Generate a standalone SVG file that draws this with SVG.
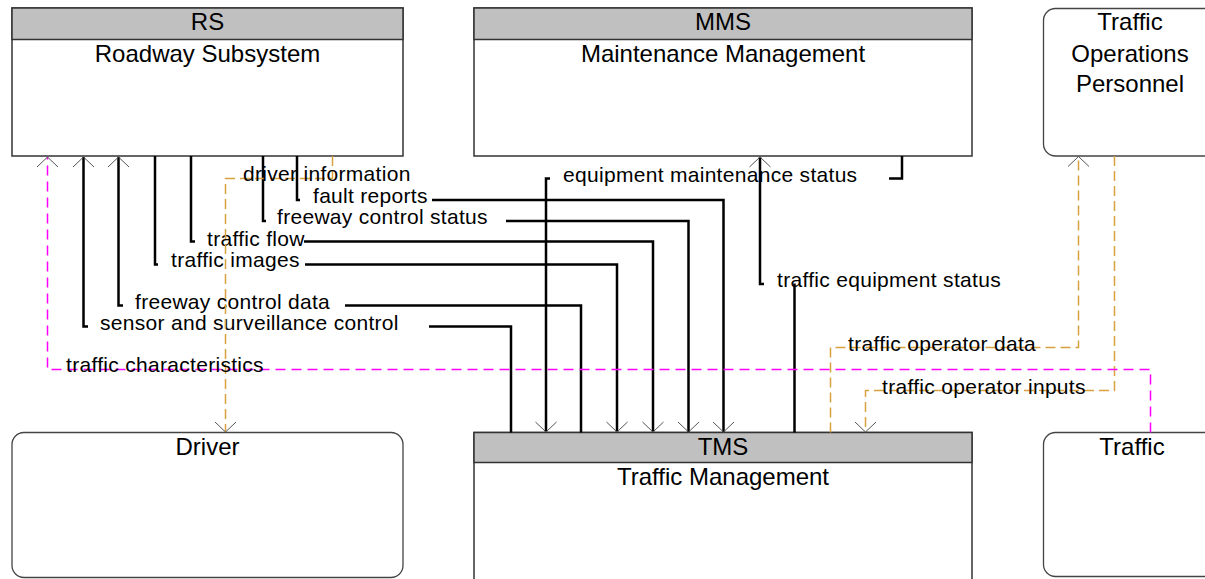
<svg xmlns="http://www.w3.org/2000/svg" width="1205" height="579" viewBox="0 0 1205 579">
<style>
  .box { fill: #ffffff; stroke: #333333; stroke-width: 1.5; }
  .hdr { fill: #c0c0c0; stroke: #333333; stroke-width: 1.5; }
  .term { fill: #ffffff; stroke: #444444; stroke-width: 1.3; }
  .title { font-family: "Liberation Sans", Arial, sans-serif; font-size: 24px; fill: #000000; text-anchor: middle; }
  .lbl { font-family: "Liberation Sans", Arial, sans-serif; font-size: 21px; letter-spacing: 0.3px; fill: #000000; }
  .solid { fill: none; stroke: #000000; stroke-width: 2.5; }
  .orange { fill: none; stroke: #d9a040; stroke-width: 1.5; stroke-dasharray: 10 5; }
  .magenta { fill: none; stroke: #ff00ff; stroke-width: 1.5; stroke-dasharray: 10 6; }
</style>
<defs>
  <marker id="arr" viewBox="-12 -12 24 24" refX="0" refY="0" markerWidth="24" markerHeight="24" orient="auto" markerUnits="userSpaceOnUse">
    <path d="M-10,-10.5 L0,0 L-10,10.5" fill="none" stroke="#555555" stroke-width="1"/>
  </marker>
</defs>

<g id="node-RS">
  <rect class="box" x="12" y="8" width="391" height="148"/>
  <rect class="hdr" x="12" y="8" width="391" height="31.5"/>
  <text class="title" x="207.5" y="30">RS</text>
  <text class="title" x="207.5" y="62">Roadway Subsystem</text>
</g>

<g id="node-MMS">
  <rect class="box" x="474" y="8" width="498" height="148"/>
  <rect class="hdr" x="474" y="8" width="498" height="31.5"/>
  <text class="title" x="723" y="30">MMS</text>
  <text class="title" x="723" y="62">Maintenance Management</text>
</g>

<g id="node-TOP">
  <rect class="term" x="1043.5" y="8.5" width="176" height="147.5" rx="12" ry="12"/>
  <text class="title" x="1130" y="30">Traffic</text>
  <text class="title" x="1130" y="61.5">Operations</text>
  <text class="title" x="1130" y="92">Personnel</text>
</g>

<g id="node-Driver">
  <rect class="term" x="12" y="432.5" width="391" height="145" rx="12" ry="12"/>
  <text class="title" x="207.5" y="454.5">Driver</text>
</g>

<g id="node-TMS">
  <rect class="box" x="474" y="432.5" width="498" height="170"/>
  <rect class="hdr" x="474" y="432.5" width="498" height="30"/>
  <text class="title" x="723" y="454.5">TMS</text>
  <text class="title" x="723" y="485">Traffic Management</text>
</g>

<g id="node-Traffic">
  <rect class="term" x="1043.5" y="432.5" width="178" height="144" rx="12" ry="12"/>
  <text class="title" x="1132" y="454.5">Traffic</text>
</g>

<g id="connectors">
  <!-- sensor and surveillance control: TMS -> RS -->
  <path class="solid" d="M511,432.5 V326.5 H429"/>
  <path class="solid" d="M88,326.5 H83.5 V157" marker-end="url(#arr)"/>
  <text class="lbl" x="100" y="330">sensor and surveillance control</text>

  <!-- freeway control data: TMS -> RS -->
  <path class="solid" d="M581,432.5 V305.5 H345"/>
  <path class="solid" d="M123,305.5 H118.5 V157" marker-end="url(#arr)"/>
  <text class="lbl" x="135" y="308.8">freeway control data</text>

  <!-- traffic images: RS -> TMS -->
  <path class="solid" d="M155,156 V264.5 H158"/>
  <path class="solid" d="M305,264.5 H617 V432" marker-end="url(#arr)"/>
  <text class="lbl" x="171" y="267">traffic images</text>

  <!-- traffic flow: RS -> TMS -->
  <path class="solid" d="M191,156 V241.5 H195"/>
  <path class="solid" d="M304,241.5 H653 V432" marker-end="url(#arr)"/>
  <text class="lbl" x="207" y="245.5">traffic flow</text>

  <!-- freeway control status: RS -> TMS -->
  <path class="solid" d="M263,156 V221 H266"/>
  <path class="solid" d="M506,221 H688.5 V432" marker-end="url(#arr)"/>
  <text class="lbl" x="277" y="224.2">freeway control status</text>

  <!-- fault reports: RS -> TMS -->
  <path class="solid" d="M297,156 V200 H300"/>
  <path class="solid" d="M432,200 H723.5 V432" marker-end="url(#arr)"/>
  <text class="lbl" x="313" y="202.8">fault reports</text>

  <!-- equipment maintenance status: MMS -> TMS -->
  <path class="solid" d="M902,156 V178.5 H889"/>
  <path class="solid" d="M550,178.5 H546 V432" marker-end="url(#arr)"/>
  <text class="lbl" x="563" y="182">equipment maintenance status</text>

  <!-- traffic equipment status: TMS -> MMS -->
  <path class="solid" d="M794.5,432.5 V283.5"/>
  <path class="solid" d="M764,284 H760 V157" marker-end="url(#arr)"/>
  <text class="lbl" x="777" y="287">traffic equipment status</text>

  <!-- driver information: RS -> Driver -->
  <path class="orange" d="M332.5,156 V178.5 H225.5 V432" marker-end="url(#arr)"/>
  <text class="lbl" x="243" y="181.3">driver information</text>

  <!-- traffic operator data: TMS -> TOP -->
  <path class="orange" d="M830.5,432.5 V347.5 H1078.5 V156.5" marker-end="url(#arr)"/>
  <text class="lbl" x="848" y="351">traffic operator data</text>

  <!-- traffic operator inputs: TOP -> TMS -->
  <path class="orange" d="M1114.5,156 V390.5 H865.5 V432" marker-end="url(#arr)"/>
  <text class="lbl" x="882" y="393.5">traffic operator inputs</text>

  <!-- traffic characteristics: Traffic -> RS -->
  <path class="magenta" d="M1150.5,432.5 V369.5 H47.5 V157" marker-end="url(#arr)"/>
  <text class="lbl" x="66" y="371.5">traffic characteristics</text>
</g>
</svg>
